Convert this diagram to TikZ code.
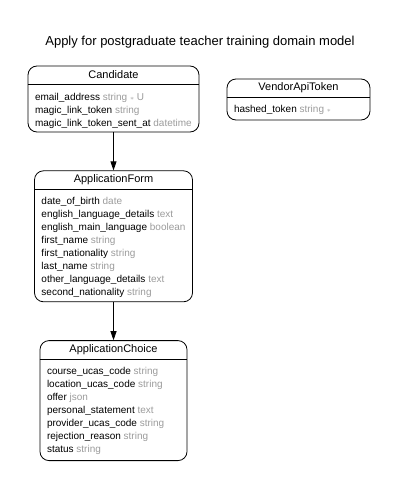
\documentclass[tikz,border=0pt]{standalone}
\usepackage{fontspec}
\setmainfont{Liberation Sans}
\usepackage{tikz}
\usetikzlibrary{arrows.meta,positioning,calc}
\usepackage{xcolor}
\definecolor{typegray}{RGB}{155,155,155}
\newcommand{\ty}[1]{\textcolor{typegray}{#1}}
\newcommand{\req}{{\fontsize{7}{7}\selectfont$\ast$}}

\begin{document}
\begin{tikzpicture}[x=1pt,y=1pt,>={Triangle[length=9pt,width=6pt]},line width=.8pt]
\tikzstyle{entity}=[draw,rounded corners=9pt,inner sep=0pt]
\tikzstyle{head}=[font=\fontsize{11}{13}\selectfont,inner sep=0pt,minimum height=18pt]
\tikzstyle{attrs}=[font=\fontsize{10}{13}\selectfont,align=left,inner sep=0pt,anchor=north west]
\useasboundingbox (0,0) rectangle (401,-490);
\node[font=\fontsize{13}{15}\selectfont] (title) at (200,-42) {Apply for postgraduate teacher training domain model};
% entities
\node[entity,minimum width=171pt,minimum height=66pt] (cand) at (113.5,-99) {};
\node[entity,below=38pt of cand,minimum width=158pt,minimum height=131pt] (form) {};
\node[entity,below=38pt of form,minimum width=147pt,minimum height=120pt] (choice) {};
\node[entity,minimum width=143pt,minimum height=41pt] (vendor) at (298.5,-99.5) {};
% headers
\node[head,below=0pt of cand.north] (candh) {Candidate};
\node[head,below=0pt of form.north] (formh) {ApplicationForm};
\node[head,below=0pt of choice.north] (choiceh) {ApplicationChoice};
\node[head,below=0pt of vendor.north] (vendorh) {VendorApiToken};
\draw (cand.west |- candh.south) -- (cand.east |- candh.south);
\draw (form.west |- formh.south) -- (form.east |- formh.south);
\draw (choice.west |- choiceh.south) -- (choice.east |- choiceh.south);
\draw (vendor.west |- vendorh.south) -- (vendor.east |- vendorh.south);
% attributes
\node[attrs] (candb) at ([shift={(7pt,-8pt)}]cand.west |- candh.south) {email\_address \ty{string \req{} U}\\magic\_link\_token \ty{string}\\magic\_link\_token\_sent\_at \ty{datetime}};
\node[attrs] (formb) at ([shift={(7pt,-8pt)}]form.west |- formh.south) {date\_of\_birth \ty{date}\\english\_language\_details \ty{text}\\english\_main\_language \ty{boolean}\\first\_name \ty{string}\\first\_nationality \ty{string}\\last\_name \ty{string}\\other\_language\_details \ty{text}\\second\_nationality \ty{string}};
\node[attrs] (choiceb) at ([shift={(7pt,-8pt)}]choice.west |- choiceh.south) {course\_ucas\_code \ty{string}\\location\_ucas\_code \ty{string}\\offer \ty{json}\\personal\_statement \ty{text}\\provider\_ucas\_code \ty{string}\\rejection\_reason \ty{string}\\status \ty{string}};
\node[attrs] (vendorb) at ([shift={(7pt,-7pt)}]vendor.west |- vendorh.south) {hashed\_token \ty{string \req}};
% relations
\draw[->] (cand) -- (form);
\draw[->] (form) -- (choice);
\end{tikzpicture}
\end{document}
